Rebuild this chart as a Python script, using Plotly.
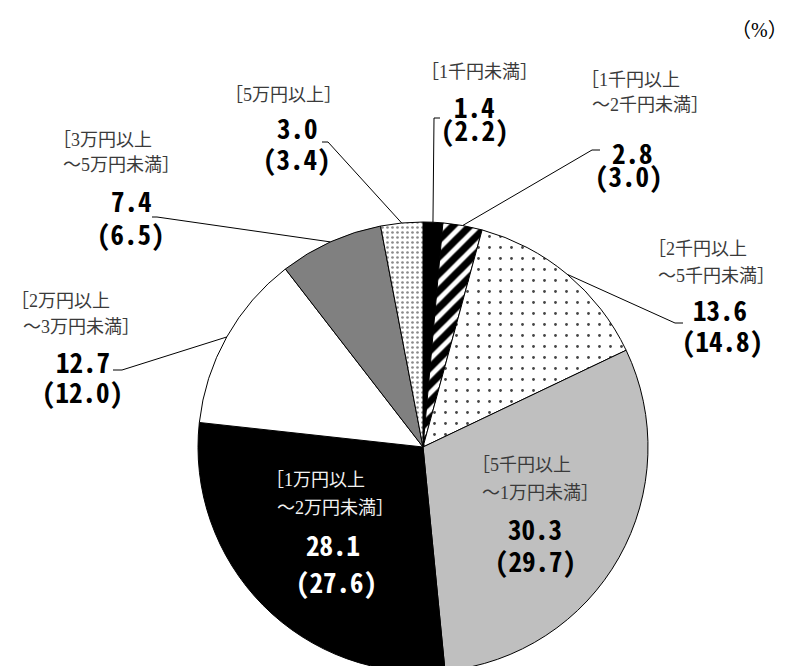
import numpy as np
import plotly.graph_objects as go

# ---------------- data ----------------
categories = ["1千円未満", "1千円以上～2千円未満", "2千円以上～5千円未満", "5千円以上～1万円未満",
              "1万円以上～2万円未満", "2万円以上～3万円未満", "3万円以上～5万円未満", "5万円以上"]
label_line1 = ["［1千円未満］", "［1千円以上", "［2千円以上", "［5千円以上",
               "［1万円以上", "［2万円以上", "［3万円以上", "［5万円以上］"]
label_line2 = ["", "～2千円未満］", "～5千円未満］", "～1万円未満］",
               "～2万円未満］", "～3万円未満］", "～5万円未満］", ""]
values = [1.4, 2.8, 13.6, 30.3, 28.1, 12.7, 7.4, 3.0]
prev_values = [2.2, 3.0, 14.8, 29.7, 27.6, 12.0, 6.5, 3.4]
unit_label = "（%）"

# ---------------- styles / layout ----------------
W, H = 790, 672
CX, CY, R = 423, 447, 225  # pie centre / radius in pixels (from top-left)

fills = ["#000000", "#ffffff", "#ffffff", "#bfbfbf", "#000000", "#ffffff", "#808080", "#ffffff"]
pat_shape = ["", "/", ".", "", "", "", "", "."]
pat_fg = ["#000000", "#000000", "#444444", "#000000", "#000000", "#000000", "#000000", "#8a8a8a"]
pat_size = [8, 12, 11, 8, 8, 8, 8, 5]
pat_solid = [0.3, 0.6, 0.05, 0.3, 0.3, 0.3, 0.3, 0.22]
text_col = ["#000", "#000", "#000", "#000", "#fff", "#000", "#000", "#000"]
lab_col = ["#3a3a3a", "#3a3a3a", "#3a3a3a", "#3a3a3a", "#f2f2f2", "#3a3a3a", "#3a3a3a", "#3a3a3a"]

# label line centres (pixels): line1, line2, value, previous value
pos_l1 = [(479, 72), (630, 80), (697, 249), (521, 465), (315, 480), (61, 301), (102, 140), (283, 95)]
pos_l2 = [None, (650, 105), (716, 276), (540, 493), (335, 508), (81, 327), (122, 165), None]
pos_v = [(474, 106), (632, 153), (720, 309), (535, 528), (333, 544), (83, 361), (131, 201), (297, 127)]
pos_p = [(475, 129), (629, 176), (722, 340), (535, 560), (336, 581), (82, 391), (131, 233), (297, 158)]
# leader lines: (tick start, elbow) in pixels, None = no leader
leaders = [((440, 118), (434, 118)), ((600, 150), (592, 150)), ((683, 323), (675, 323)),
           None, None, ((113, 370), (122, 370)), ((152, 217), (157, 217)), ((322, 142), (328, 142))]


def px(x):
    return x / W


def py(y):
    return 1 - y / H


fig = go.Figure()
fig.add_trace(go.Pie(
    labels=categories, values=values, sort=False, direction="clockwise", rotation=0,
    textinfo="none", hoverinfo="label+value",
    marker=dict(colors=fills, line=dict(color="#000000", width=1),
                pattern=dict(shape=pat_shape, fgcolor=pat_fg, bgcolor=fills,
                             size=pat_size, solidity=pat_solid, fillmode="replace")),
    domain=dict(x=[px(CX - R), px(CX + R)], y=[py(CY + R), py(CY - R)]),
    showlegend=False,
))

label_font = dict(family="Liberation Serif, Noto Sans CJK JP", size=18)
num_font = dict(family="Noto Sans Mono CJK JP, DejaVu Sans Mono, monospace", size=27)

ann = []
for i in range(len(values)):
    ann.append(dict(x=px(pos_l1[i][0]), y=py(pos_l1[i][1]), text=label_line1[i],
                    font=dict(**label_font, color=lab_col[i])))
    if pos_l2[i] is not None:
        ann.append(dict(x=px(pos_l2[i][0]), y=py(pos_l2[i][1]), text=label_line2[i],
                        font=dict(**label_font, color=lab_col[i])))
    ann.append(dict(x=px(pos_v[i][0]), y=py(pos_v[i][1]),
                    text="<b>" + f"{values[i]:.1f}" + "</b>",
                    font=dict(**num_font, color=text_col[i])))
    ann.append(dict(x=px(pos_p[i][0]), y=py(pos_p[i][1]),
                    text="<b>(" + f"{prev_values[i]:.1f}" + ")</b>",
                    font=dict(**num_font, color=text_col[i])))
ann.append(dict(x=px(759), y=py(30), text=unit_label,
                font=dict(family="Liberation Serif, Noto Sans CJK JP", size=20, color="#000")))
for a in ann:
    a.update(xref="paper", yref="paper", xanchor="center", yanchor="middle", showarrow=False)

# leader lines from label elbow to slice mid-point on the pie edge
total = float(np.sum(values))
cum = np.cumsum([0] + values[:-1])
shapes = []
for i, ld in enumerate(leaders):
    if ld is None:
        continue
    ang = 2 * np.pi * (cum[i] + values[i] / 2) / total
    ex = CX + R * np.sin(ang)
    ey = CY - R * np.cos(ang)
    (sx, sy), (bx, by) = ld
    path = f"M{px(sx)},{py(sy)} L{px(bx)},{py(by)} L{px(ex)},{py(ey)}"
    shapes.append(dict(type="path", path=path, xref="paper", yref="paper",
                       line=dict(color="#000000", width=1)))

fig.update_layout(width=W, height=H, margin=dict(l=0, r=0, t=0, b=0),
                  paper_bgcolor="#ffffff", plot_bgcolor="#ffffff",
                  annotations=ann, shapes=shapes)

fig.write_html("out.html", config={"displayModeBar": False},
               post_script="document.body.style.margin='0';document.body.style.overflow='hidden';")
